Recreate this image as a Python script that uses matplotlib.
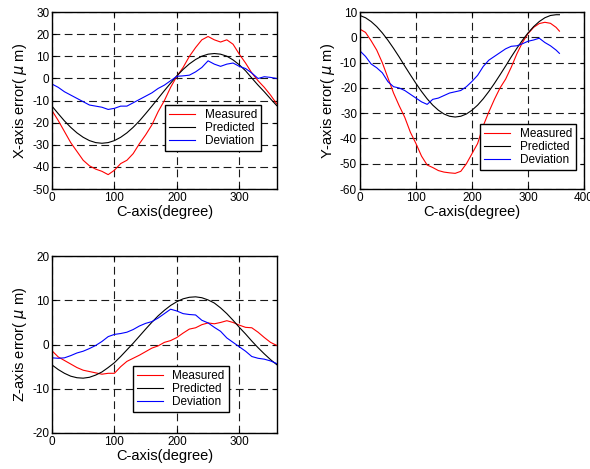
import matplotlib
matplotlib.use("Agg")
import matplotlib.pyplot as plt
import numpy as np

plt.rcParams['font.family'] = ['Liberation Sans', 'DejaVu Sans']
plt.rcParams['mathtext.fontset'] = 'dejavusans'
plt.rcParams['axes.unicode_minus'] = False

# angles (degree)
deg_xz = list(range(0, 361, 10))
deg_y = list(range(0, 351, 10)) + [356]

# X-axis error
x_measured = [-14.5, -19, -24, -29, -33, -37, -39.5, -41, -42, -43.5, -41.5, -38.5, -37,
              -34, -29.5, -25.5, -21, -15, -10, -4, 1, 5, 10, 14, 17.5, 19, 17.5, 16.5,
              17.5, 15.5, 11, 7, 2.5, -1, -4, -7.5, -11.5]
x_predicted = [-12.5, -15.9, -19.2, -22.1, -24.6, -26.6, -28.1, -29.0, -29.3, -29.0, -28.1,
               -26.6, -24.6, -22.1, -19.2, -15.9, -12.5, -9.0, -5.5, -2.1, 1.2, 4.1, 6.6,
               8.6, 10.1, 11.0, 11.3, 11.0, 10.1, 8.4, 6.2, 3.5, 0.2, -3.0, -6.0, -9.2, -12.3]
x_deviation = [-2.5, -4, -6, -7.5, -9, -10.5, -12, -12.5, -13, -14, -13.5, -12.5, -12.5,
               -11, -9.5, -8, -6.5, -4.5, -3, -1, 1, 1.2, 1.5, 3, 5, 8, 6.5, 5.5, 6.5, 7,
               5.5, 4.5, 2.5, 0, 0.8, 0.5, 0]

# Y-axis error
y_measured = [3.3, 2, -1.3, -5, -10, -16, -22, -27, -31.6, -37.5, -42, -47, -50.5, -51.5,
              -52.7, -53.3, -53.6, -53.8, -53, -50, -46, -42, -35, -29.5, -24.5, -20, -16.5,
              -11.8, -6.5, -2, 1.5, 4, 5.5, 6, 5.6, 4, 2.5]
y_predicted = [8.7, 7.8, 6.3, 4.3, 1.8, -1.1, -4.3, -7.7, -11.3, -14.8, -18.2, -21.4, -24.3,
               -26.8, -28.8, -30.3, -31.2, -31.5, -31.2, -30.3, -28.8, -26.8, -24.3, -21.4,
               -18.2, -14.8, -11.3, -7.7, -4.3, -1.1, 1.8, 4.3, 6.3, 7.8, 8.7, 9.0, 9.0]
y_deviation = [-5.3, -7.5, -10.5, -12, -14, -17.5, -19.5, -20, -21, -22.5, -24, -25.5, -26.5,
               -24.5, -24, -23, -22, -21.5, -21, -19.5, -17.4, -15, -11.5, -9, -7.5, -6,
               -4.5, -3.5, -3.3, -2.5, -1.5, -1, -0.3, -2, -3.3, -5, -6.3]

# Z-axis error
z_measured = [-1.4, -2.8, -3.6, -4.4, -5.2, -5.8, -6.1, -6.4, -6.7, -6.5, -6.5, -5, -3.8,
              -3.1, -2.4, -1.6, -0.8, -0.3, 0.5, 0.9, 1.6, 2.6, 3.5, 3.8, 4.5, 4.9, 4.7, 5.0,
              5.4, 5.0, 4.4, 3.9, 3.8, 2.8, 1.6, 0.5, -0.2]
z_predicted = [-4.6, -5.65, -6.5, -7.15, -7.5, -7.6, -7.4, -6.9, -6.2, -5.2, -4.1, -2.7,
               -1.2, 0.3, 1.9, 3.5, 5.05, 6.5, 7.75, 8.85, 9.7, 10.35, 10.7, 10.8, 10.6,
               10.1, 9.4, 8.3, 7.0, 5.5, 3.9, 2.4, 0.8, -0.7, -2.1, -3.4, -4.55]
z_deviation = [-3, -3.1, -3, -2.5, -1.9, -1.5, -0.9, -0.2, 0.7, 1.8, 2.3, 2.5, 2.8, 3.4,
               4.2, 4.8, 5.2, 6, 7, 8, 7.6, 7, 6.8, 6.7, 5.5, 4.9, 3.9, 3, 1.5, 0.5, -0.5,
               -1.5, -2.7, -3.1, -3.3, -3.7, -4.3]

fig = plt.figure(figsize=(5.9, 4.69), dpi=100)

panels = [
    ([0.0881, 0.597, 0.381, 0.377], deg_xz, x_measured, x_predicted, x_deviation,
     'X-axis error( $\\mu$ m)', (0, 360), (-50, 30), range(-50, 31, 10), [0, 100, 200, 300],
     (0.956, 0.18)),
    ([0.610, 0.597, 0.380, 0.377], deg_y, y_measured, y_predicted, y_deviation,
     'Y-axis error( $\\mu$ m)', (0, 400), (-60, 10), range(-60, 11, 10), [0, 100, 200, 300, 400],
     (0.991, 0.073)),
    ([0.0881, 0.0768, 0.381, 0.377], deg_xz, z_measured, z_predicted, z_deviation,
     'Z-axis error( $\\mu$ m)', (0, 360), (-20, 20), range(-20, 21, 10), [0, 100, 200, 300],
     (0.813, 0.085)),
]

for rect, deg, meas, pred, dev, ylab, xl, yl, yt, xt, anchor in panels:
    ax = fig.add_axes(rect)
    ax.plot(deg, meas, color='#ff0000', lw=0.8, label='Measured')
    ax.plot(deg, pred, color='black', lw=0.8, label='Predicted')
    ax.plot(deg, dev, color='#0000ff', lw=0.8, label='Deviation')
    ax.set_xlim(*xl)
    ax.set_ylim(*yl)
    ax.set_xticks(xt)
    ax.set_yticks(list(yt))
    ax.grid(True, color='0.1', linestyle=(0, (7, 4)), lw=0.8)
    ax.tick_params(direction='in', length=3, labelsize=8.5, top=True, right=True, pad=2)
    for s in ax.spines.values():
        s.set_linewidth(1.0)
    ax.set_xlabel('C-axis(degree)', fontsize=10.5, labelpad=1)
    ax.set_ylabel(ylab, fontsize=10.5, labelpad=2)
    leg = ax.legend(loc='lower right', bbox_to_anchor=anchor, fontsize=8.5, fancybox=False,
                    framealpha=1, edgecolor='black', handlelength=2.2, borderpad=0.35,
                    labelspacing=0.08, handletextpad=0.8)
    leg.get_frame().set_linewidth(1.0)

plt.savefig('out.png', dpi=100)
